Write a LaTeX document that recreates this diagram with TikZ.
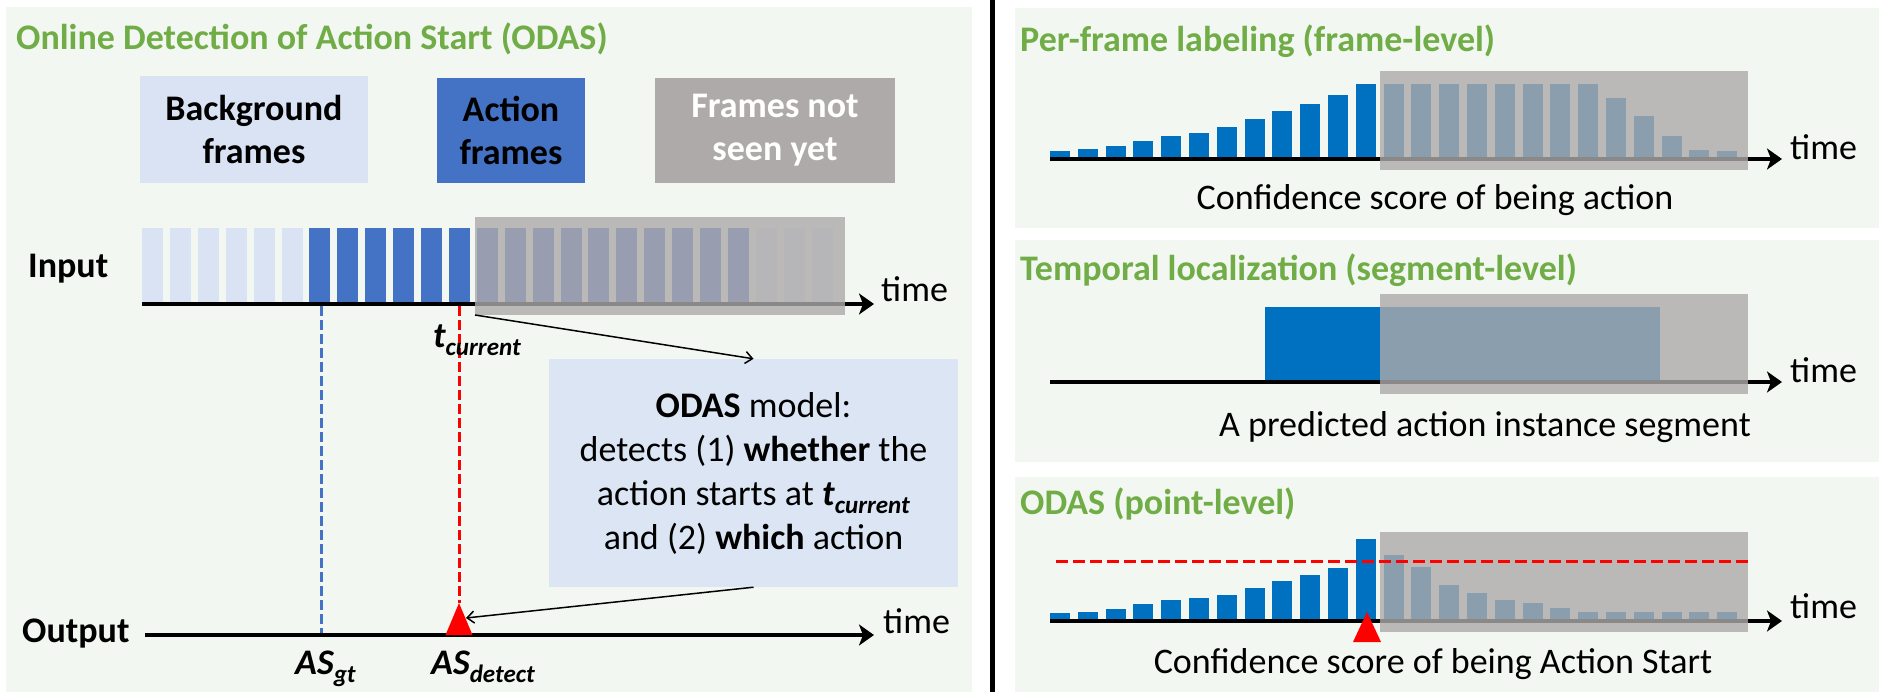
\documentclass[tikz,border=0pt]{standalone}
\usepackage{fontspec}
\setmainfont{Carlito}
\usetikzlibrary{arrows.meta}

\definecolor{panelbg}{HTML}{F3F7F1}
\definecolor{headgreen}{HTML}{70AD47}
\definecolor{lightframe}{HTML}{DAE3F3}
\definecolor{actframe}{HTML}{4472C4}
\definecolor{scoreblue}{HTML}{0070C0}
\definecolor{unseen}{HTML}{AEAAAA}
\definecolor{modelfill}{HTML}{DCE5F3}

% lowered, smaller subscript text
\newcommand{\lowsub}[1]{\raisebox{-8pt}{\fontsize{25}{25}\selectfont #1}}

\tikzset{
  big/.style={font=\fontsize{36}{44}\selectfont, inner sep=0pt},
  head/.style={font=\fontsize{36}{44}\selectfont\bfseries, text=headgreen, anchor=base west, inner sep=0pt},
  keybox/.style={font=\fontsize{36}{43}\selectfont\bfseries, align=center, inner sep=0pt, outer sep=0pt},
  axis/.style={line width=4pt, -{Stealth[length=15pt,width=21pt,inset=4pt]}},
  veil/.style={fill=unseen, fill opacity=0.8, draw=none, inner sep=0pt, outer sep=0pt},
  pointer/.style={line width=1.5pt, -{Straight Barb[length=7pt,width=12pt]}},
  panel/.style={fill=panelbg},
  gtline/.style={draw=actframe, line width=3pt, dash pattern=on 10pt off 4pt},
  detline/.style={draw=red, line width=3pt, dash pattern=on 10pt off 4pt},
}

\begin{document}
\begin{tikzpicture}[x=1pt, y=-1pt]
\useasboundingbox (0,0) rectangle (1879,692);
\fill[white] (0,0) rectangle (1879,692);

% ---------------- left panel: ODAS ----------------
\fill[panel] (6,7) rectangle (972,692);
\node[head] (odastitle) at (16,50) {Online Detection of Action Start (ODAS)};

% legend
\node[keybox, fill=lightframe, minimum width=228pt, minimum height=107pt] (bgkey) at (254,129.5) {Background\\frames};
\node[keybox, fill=actframe, minimum width=148pt, minimum height=105pt] (actkey) at (511,130.5) {Action\\frames};
\node[keybox, fill=unseen, text=white, minimum width=240pt, minimum height=105pt] (unseenkey) at (775,130.5) {Frames not\\seen yet};

% input frames
\foreach \i in {0,...,5}   {\fill[lightframe] ({142+27.9*\i},228) rectangle ++(21,76);}
\foreach \i in {6,...,21}  {\fill[actframe]   ({142+27.9*\i},228) rectangle ++(21,76);}
\foreach \i in {22,...,24} {\fill[lightframe] ({142+27.9*\i},228) rectangle ++(21,76);}
\coordinate (inA) at (142,304);
\coordinate (inB) at (874,304);
\draw[axis] (inA) -- (inB);
\node[veil, minimum width=370pt, minimum height=98pt] (veilA) at (660,266) {};

\node[big, anchor=base west] (inputlab) at (28,278) {\bfseries Input};
\node[big, anchor=base west] (timeA) at (881,302) {time};

% output axis
\coordinate (outA) at (145,635);
\coordinate (outB) at (874,635);
\draw[axis] (outA) -- (outB);
\node[big, anchor=base west] (outputlab) at (22,642) {\bfseries Output};
\node[big, anchor=base west] (timeB) at (883,633) {time};

% ground-truth and detected starts
\coordinate (gtTop) at (321,306);
\coordinate (gtBot) at (321,633);
\draw[gtline] (gtTop) -- (gtBot);
\coordinate (detTop) at (459,306);
\coordinate (detApex) at (459,603);
\draw[detline] (detTop) -- (detApex);
\fill[red] (detApex) -- (472.5,635) -- (445.5,635) -- cycle;
\coordinate (detHit) at (466,618);

\node[big, anchor=base west] (tcur) at (433,348) {\bfseries\itshape t\lowsub{current}};
\node[big, anchor=base west] (asgt) at (295,674) {\bfseries\itshape AS\lowsub{gt}};
\node[big, anchor=base west] (asdet) at (431,674) {\bfseries\itshape AS\lowsub{detect}};

% model box
\node[big, fill=modelfill, minimum width=409pt, minimum height=228pt, align=center] (model) at (753.5,473)
  {\textbf{ODAS} model:\\
   detects (1) \textbf{whether} the\\
   action starts at \textbf{\textit{t}}\lowsub{\textbf{\textit{current}}}\\
   and (2) \textbf{which} action};
\draw[pointer] (veilA.south west) -- (model.north);
\draw[pointer] (model.south) -- (detHit);

% separator
\draw[line width=5pt] (992.5,0) -- (992.5,692);

% ---------------- right panel 1: frame-level ----------------
\fill[panel] (1015,8) rectangle (1879,228);
\node[head] (pftitle) at (1020,52) {Per-frame labeling (frame-level)};
\foreach \h [count=\i from 0] in {7.7,9.7,12.7,18.3,22.7,26,31.7,40,47.7,55.3,63.7,75.3,75.3,75.3,75.3,75.3,75.3,75.3,75.3,75.3,61,42.7,22.7,9.3,7.7}
  {\fill[scoreblue] ({1050+27.8*\i},159) rectangle ++(20,-\h);}
\coordinate (pfA) at (1050,159);
\coordinate (pfB) at (1782,159);
\draw[axis] (pfA) -- (pfB);
\fill[veil] (1379.5,71) rectangle (1748,170);
\node[big, anchor=base west] (timeC) at (1790,160) {time};
\node[big, anchor=base] (pfcap) at (1435,210) {Confidence score of being action};

% ---------------- right panel 2: segment-level ----------------
\fill[panel] (1015,240) rectangle (1879,462);
\node[head] (tltitle) at (1020,281) {Temporal localization (segment-level)};
\fill[scoreblue] (1265,307) rectangle (1660,382);
\coordinate (tlA) at (1050,382);
\coordinate (tlB) at (1782,382);
\draw[axis] (tlA) -- (tlB);
\fill[veil] (1379.5,294) rectangle (1748,394);
\node[big, anchor=base west] (timeD) at (1790,383) {time};
\node[big, anchor=base] (tlcap) at (1485,436) {A predicted action instance segment};

% ---------------- right panel 3: point-level ----------------
\fill[panel] (1015,477) rectangle (1879,692);
\node[head] (pltitle) at (1020,514) {ODAS (point-level)};
\foreach \h [count=\i from 0] in {7.7,9,11.7,16.7,20.7,23,25.7,32.7,39.7,45.7,52.7,81.7,65.7,53.7,36,27.7,21.3,18,12.7,8.7,8.7,8.7,8.7,8.7,8.7}
  {\fill[scoreblue] ({1050+27.8*\i},621) rectangle ++(20,-\h);}
\coordinate (plA) at (1050,621);
\coordinate (plB) at (1782,621);
\draw[axis] (plA) -- (plB);
\fill[veil] (1379.5,532) rectangle (1748,632);
\draw[detline, dash pattern=on 12pt off 5pt] (1056,561) -- (1748,561);
\fill[red] (1367,612) -- (1381,642) -- (1353,642) -- cycle;
\node[big, anchor=base west] (timeE) at (1790,618) {time};
\node[big, anchor=base] (plcap) at (1433,673) {Confidence score of being Action Start};
\end{tikzpicture}
\end{document}
